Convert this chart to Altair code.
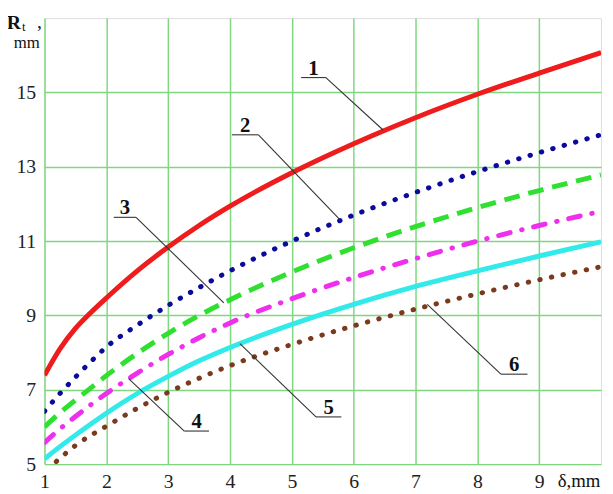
import altair as alt
import pandas as pd

# ---- data ----
x_vals = [1, 1.25, 1.5, 1.75, 2, 2.5, 3, 3.5, 4, 5, 6, 7, 8, 9, 10]
curve1 = [7.39, 8.10, 8.65, 9.08, 9.47, 10.20, 10.84, 11.42, 11.94, 12.84, 13.62, 14.32, 14.95, 15.52, 16.07]
curve2 = [6.42, 6.90, 7.34, 7.76, 8.15, 8.74, 9.27, 9.75, 10.20, 11.00, 11.70, 12.31, 12.87, 13.38, 13.86]
curve3 = [6.00, 6.38, 6.72, 7.05, 7.38, 7.98, 8.52, 9.00, 9.42, 10.17, 10.82, 11.39, 11.90, 12.36, 12.78]
curve4 = [5.58, 5.95, 6.28, 6.60, 6.90, 7.45, 7.95, 8.40, 8.80, 9.45, 10.02, 10.53, 11.00, 11.42, 11.80]
curve5 = [5.14, 5.47, 5.78, 6.08, 6.37, 6.90, 7.36, 7.78, 8.14, 8.76, 9.30, 9.78, 10.20, 10.60, 10.98]
x6_vals = [1.19, 1.5, 2, 2.5, 3, 3.5, 4, 5, 6, 7, 8, 9, 10]
curve6 = [5.07, 5.50, 6.02, 6.50, 6.93, 7.31, 7.65, 8.22, 8.72, 9.17, 9.58, 9.96, 10.31]

x_ticks = [1, 2, 3, 4, 5, 6, 7, 8, 9]
y_ticks = [5, 7, 9, 11, 13, 15]

# curve labels: text, underline start/end x, underline y, leader end (x, y)
lab_text = ["1", "2", "3", "4", "5", "6"]
lab_u_x1 = [5.15, 4.03, 2.12, 3.26, 5.39, 8.38]
lab_u_x2 = [5.55, 4.46, 2.48, 3.66, 5.80, 8.81]
lab_u_y = [15.40, 13.86, 11.64, 5.89, 6.27, 7.42]
lab_side = ["right", "right", "right", "left", "left", "left"]
lab_end_x = [6.475, 5.78, 3.90, 2.36, 4.16, 7.19]
lab_end_y = [13.99, 11.57, 9.34, 7.30, 8.24, 9.30]

W, H = 564, 452
xs = alt.Scale(domain=[1, 10], nice=False, zero=False)
ys = alt.Scale(domain=[5, 17], nice=False, zero=False)
SERIF = "Liberation Serif, Times New Roman, DejaVu Serif, serif"

def curve_layer(xv, yv, color, dash=None, cap="butt", width=5):
    df = pd.DataFrame({"x": xv, "y": yv})
    kw = dict(color=color, strokeWidth=width, strokeCap=cap, interpolate="monotone", clip=True)
    if dash is not None:
        kw["strokeDash"] = dash
    return alt.Chart(df).mark_line(**kw).encode(
        x=alt.X("x:Q", scale=xs, axis=alt.Axis(
            values=x_ticks, format="d", title=None, grid=True, ticks=False, domain=False,
            labelFont=SERIF, labelFontSize=20, labelColor="#222", labelPadding=8,
            gridColor="#7fd87f", gridWidth=1.5, labelFlush=False)),
        y=alt.Y("y:Q", scale=ys, axis=alt.Axis(
            values=y_ticks, format="d", title=None, grid=True, ticks=False, domain=False,
            labelFont=SERIF, labelFontSize=20, labelColor="#222", labelPadding=9,
            gridColor="#7fd87f", gridWidth=1.5, labelFlush=False)),
    )

layers = [
    curve_layer(x6_vals, curve6, "#7a3a1e", dash=[0.5, 11.5], cap="round"),
    curve_layer(x_vals, curve5, "#33eaea"),
    curve_layer(x_vals, curve4, "#ee30ee", dash=[12, 12, 0.5, 12], cap="round"),
    curve_layer(x_vals, curve3, "#30e030", dash=[16, 9]),
    curve_layer(x_vals, curve2, "#0a0a9c", dash=[0.5, 11.5], cap="round"),
    curve_layer(x_vals, curve1, "#ee1c1c"),
]

# label leader lines and underlines
seg_rows = []
for i, t in enumerate(lab_text):
    seg_rows.append({"id": f"u{i}", "x": lab_u_x1[i], "y": lab_u_y[i], "x2": lab_u_x2[i], "y2": lab_u_y[i]})
    sx = lab_u_x2[i] if lab_side[i] == "right" else lab_u_x1[i]
    seg_rows.append({"id": f"l{i}", "x": sx, "y": lab_u_y[i], "x2": lab_end_x[i], "y2": lab_end_y[i]})
segs = alt.Chart(pd.DataFrame(seg_rows)).mark_rule(color="#333", strokeWidth=1.1).encode(
    x=alt.X("x:Q", scale=xs), y=alt.Y("y:Q", scale=ys), x2="x2:Q", y2="y2:Q")

lab_df = pd.DataFrame({"t": lab_text,
                       "x": [(a + b) / 2 for a, b in zip(lab_u_x1, lab_u_x2)],
                       "y": lab_u_y})
labels = alt.Chart(lab_df).mark_text(font=SERIF, fontSize=21, fontWeight="bold",
                                     baseline="alphabetic", dy=-3, color="#111").encode(
    x=alt.X("x:Q", scale=xs), y=alt.Y("y:Q", scale=ys), text="t:N")

one = pd.DataFrame({"a": [0]})
def txt(s, x, y, size=19, bold=False, align="center", baseline="middle"):
    return alt.Chart(one).mark_text(text=s, font=SERIF, fontSize=size,
                                    fontWeight="bold" if bold else "normal",
                                    align=align, baseline=baseline, color="#111").encode(
        x=alt.value(x), y=alt.value(y))

titles = [
    txt("R", -31, 5, size=20, bold=True),
    txt("t", -21, 9, size=13),
    txt(",", -5, 4, size=20),
    txt("mm", -18, 25, size=17),
    txt("δ,mm", 520, H + 8, size=19, align="left", baseline="top"),
]

chart = alt.layer(*layers, segs, labels, *titles).properties(
    width=W, height=H,
    autosize="none",
    padding={"left": 37, "top": 7, "right": 4, "bottom": 24},
).configure_view(stroke="#8a8a8a", strokeWidth=2).configure(background="white")

chart.save("out.html", embed_options={"renderer": "svg", "actions": False})
